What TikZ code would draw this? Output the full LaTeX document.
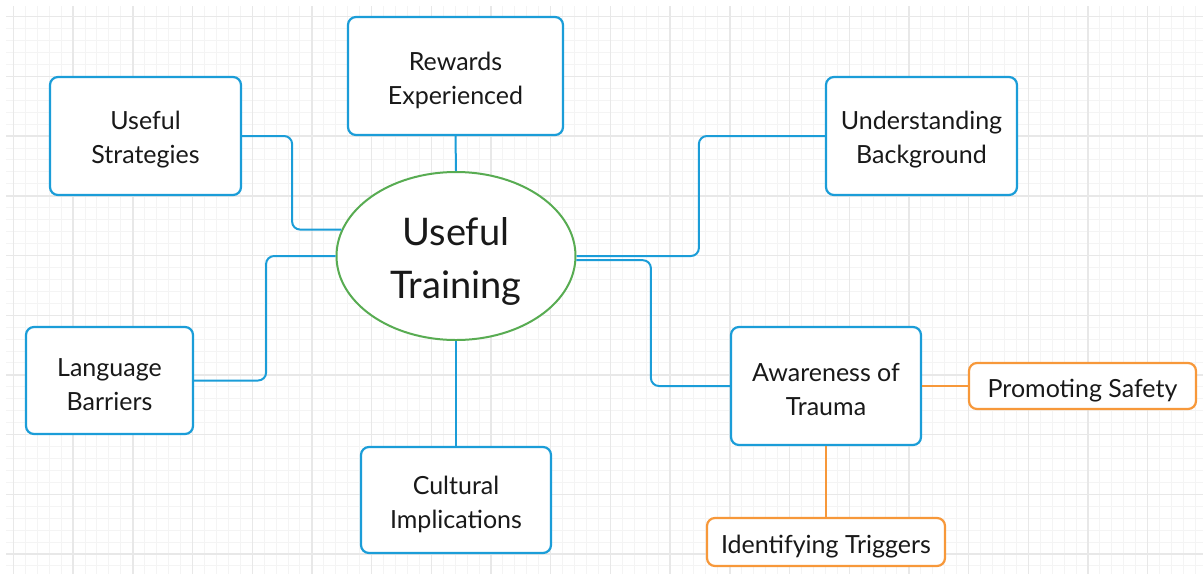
\documentclass[tikz,border=0pt]{standalone}
\usepackage{fontspec}
\setmainfont{Lato}
\usetikzlibrary{shapes.geometric}
\definecolor{bblue}{RGB}{27,157,216}
\definecolor{ggreen}{RGB}{88,172,82}
\definecolor{oorange}{RGB}{247,152,58}
\definecolor{txt}{RGB}{25,25,25}
\definecolor{gminor}{RGB}{244,244,244}
\definecolor{gmajor}{RGB}{232,232,232}
\tikzset{
  topic/.style={draw=bblue, line width=2.2pt, rounded corners=8pt, fill=white,
    inner sep=0pt},
  sub/.style={draw=oorange, line width=2.2pt, rounded corners=8pt, fill=white,
    inner sep=0pt},
  lbl/.style={inner sep=0pt, align=center, text=txt,
    font=\fontsize{25}{34}\selectfont},
  biglbl/.style={inner sep=0pt, align=center, text=txt,
    font=\fontsize{38}{53}\selectfont},
  centre/.style={draw=ggreen, ellipse, line width=2pt, fill=white, inner sep=0pt,
    minimum width=239pt, minimum height=168pt},
  blink/.style={draw=bblue, line width=2pt, rounded corners=8pt},
  olink/.style={draw=oorange, line width=2pt},
}
\begin{document}
\begin{tikzpicture}[x=1pt,y=-1pt]
\useasboundingbox (0,0) rectangle (1203,574);
\fill[white] (0,0) rectangle (1203,574);
% grid
\foreach \i in {0,...,100} {
  \pgfmathsetmacro{\gx}{13.4+11.94*(\i-1)}
  \ifdim \gx pt>6pt \ifdim \gx pt<1203pt
    \draw[gminor, line width=1pt] (\gx,6) -- (\gx,574);
  \fi\fi
}
\foreach \i in {0,...,50} {
  \pgfmathsetmacro{\gy}{16.7+11.94*(\i-1)}
  \ifdim \gy pt>6pt \ifdim \gy pt<574pt
    \draw[gminor, line width=1pt] (6,\gy) -- (1203,\gy);
  \fi\fi
}
\foreach \i in {0,...,20} {
  \pgfmathsetmacro{\gx}{13.4+59.7*\i}
  \draw[gmajor, line width=1.4pt] (\gx,6) -- (\gx,574);
}
\foreach \i in {0,...,9} {
  \pgfmathsetmacro{\gy}{16.7+59.7*\i}
  \draw[gmajor, line width=1.4pt] (6,\gy) -- (1203,\gy);
}

% nodes
\node[centre] (ut) at (456,256) {};
\node[biglbl] at ([yshift=-5pt]ut.center) {Useful\\Training};
\node[topic, minimum width=215pt, minimum height=118pt] (re) at (455.5,76) {};
\node[lbl] at ([yshift=-4pt]re.center) {Rewards\\Experienced};
\node[topic, minimum width=191pt, minimum height=118pt] (us) at (145.5,136) {};
\node[lbl] at ([yshift=-4pt]us.center) {Useful\\Strategies};
\node[topic, minimum width=191pt, minimum height=118pt] (ub) at (921.5,136) {};
\node[lbl] at ([yshift=-4pt]ub.center) {Understanding\\Background};
\node[topic, minimum width=167pt, minimum height=107pt] (lb) at (109.5,380.5) {};
\node[lbl] at ([yshift=-4pt]lb.center) {Language\\Barriers};
\node[topic, minimum width=190pt, minimum height=106pt] (ci) at (456,500) {};
\node[lbl] at ([yshift=-4pt]ci.center) {Cultural\\Implications};
\node[topic, minimum width=190pt, minimum height=118pt] (aw) at (826,386) {};
\node[lbl] at ([yshift=-4pt]aw.center) {Awareness of\\Trauma};
\node[sub, minimum width=227pt, minimum height=46pt] (ps) at (1082.5,386) {};
\node[lbl] at ([yshift=-4.5pt]ps.center) {Promoting Safety};
\node[sub, minimum width=238pt, minimum height=48pt] (it) at (826,542) {};
\node[lbl] at ([yshift=-4.5pt]it.center) {Identifying Triggers};

% connectors
\draw[blink] (re.south) -- (ut.north);
\draw[blink] (ut.south) -- (ci.north);
\draw[blink] (us.east) -- ++(50,0) |- (ut.167.6);
\draw[blink] (lb.east) -- ++(72,0) |- (ut.west);
\draw[blink] (ub.west) -- ++(-126,0) |- (ut.0.5);
\draw[blink] (aw.west) -- ++(-79,0) |- (ut.-2);
\draw[olink] (aw.east) -- (ps.west);
\draw[olink] (aw.south) -- (it.north);
\end{tikzpicture}
\end{document}
